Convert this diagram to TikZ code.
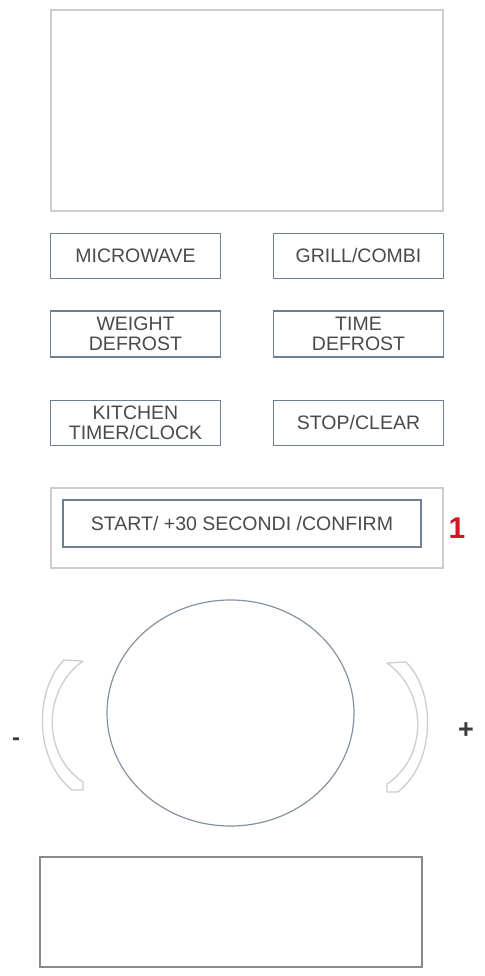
\documentclass[tikz,border=0pt]{standalone}
\usepackage{fontspec}
\setmainfont{Liberation Sans}
\usetikzlibrary{shapes.geometric}
\definecolor{btnline}{HTML}{6F7F92}
\definecolor{btntext}{HTML}{4A4A4A}
\definecolor{paleline}{HTML}{CDCDCD}
\definecolor{darkline}{HTML}{8A8A8A}
\definecolor{markred}{HTML}{D01828}
\tikzset{
  btn/.style={draw=btnline, line width=1.3pt, rectangle, minimum width=170pt, minimum height=45pt,
    inner sep=0pt, align=center, text=btntext, font=\fontsize{19.5}{20}\selectfont},
  pale/.style={draw=paleline, line width=1.6pt}
}

\begin{document}
\begin{tikzpicture}[x=1pt,y=-1pt]
\useasboundingbox[fill=white] (0,0) rectangle (484,976);
\node[pale, rectangle, minimum width=392pt, minimum height=201pt, inner sep=0pt] (screen) at (247,110.5) {};
\node[btn] (micro) at (135.5,256) {MICROWAVE};
\node[btn] (grill) at (358.5,256) {GRILL/COMBI};
\node[btn, minimum height=46pt] (wdef) at (135.5,334) {WEIGHT\\DEFROST};
\node[btn, minimum height=46pt] (tdef) at (358.5,334) {TIME\\DEFROST};
\node[btn] (timer) at (135.5,423) {KITCHEN\\TIMER/CLOCK};
\node[btn] (stop) at (358.5,423) {STOP/CLEAR};
\node[pale, rectangle, minimum width=392pt, minimum height=80pt, inner sep=0pt] (startbox) at (247,528) {};
\node[btn, minimum width=358pt, minimum height=47pt] (start) at (242,523.5) {START/ +30 SECONDI /CONFIRM};
\node[text=markred, font=\fontsize{30}{30}\bfseries] (one) at (457,528) {1};
\node[draw=btnline!85, line width=1.2pt, ellipse, minimum width=247pt, minimum height=226pt, inner sep=0pt] (dial) at (230.5,713) {};
\draw[pale, line width=1.3pt, line join=round] (64,660) .. controls (34,690) and (34,760) .. (72,790) -- (83,790) -- (83,782)
  .. controls (42,755) and (42,690) .. (83,661) -- cycle;
\draw[pale, line width=1.3pt, line join=round] (406,662) .. controls (436,692) and (436,762) .. (398,792) -- (387,792) -- (387,784)
  .. controls (428,757) and (428,692) .. (387,663) -- cycle;
\node[text=btntext!80!black, font=\fontsize{24}{24}\bfseries] (minus) at (16,742) {-};
\node[text=btntext!80!black, font=\fontsize{27}{27}\bfseries] (plus) at (466,731) {+};
\node[draw=darkline, line width=2.6pt, rectangle, minimum width=382pt, minimum height=110pt, inner sep=0pt] (tray) at (231,912) {};
\end{tikzpicture}
\end{document}
